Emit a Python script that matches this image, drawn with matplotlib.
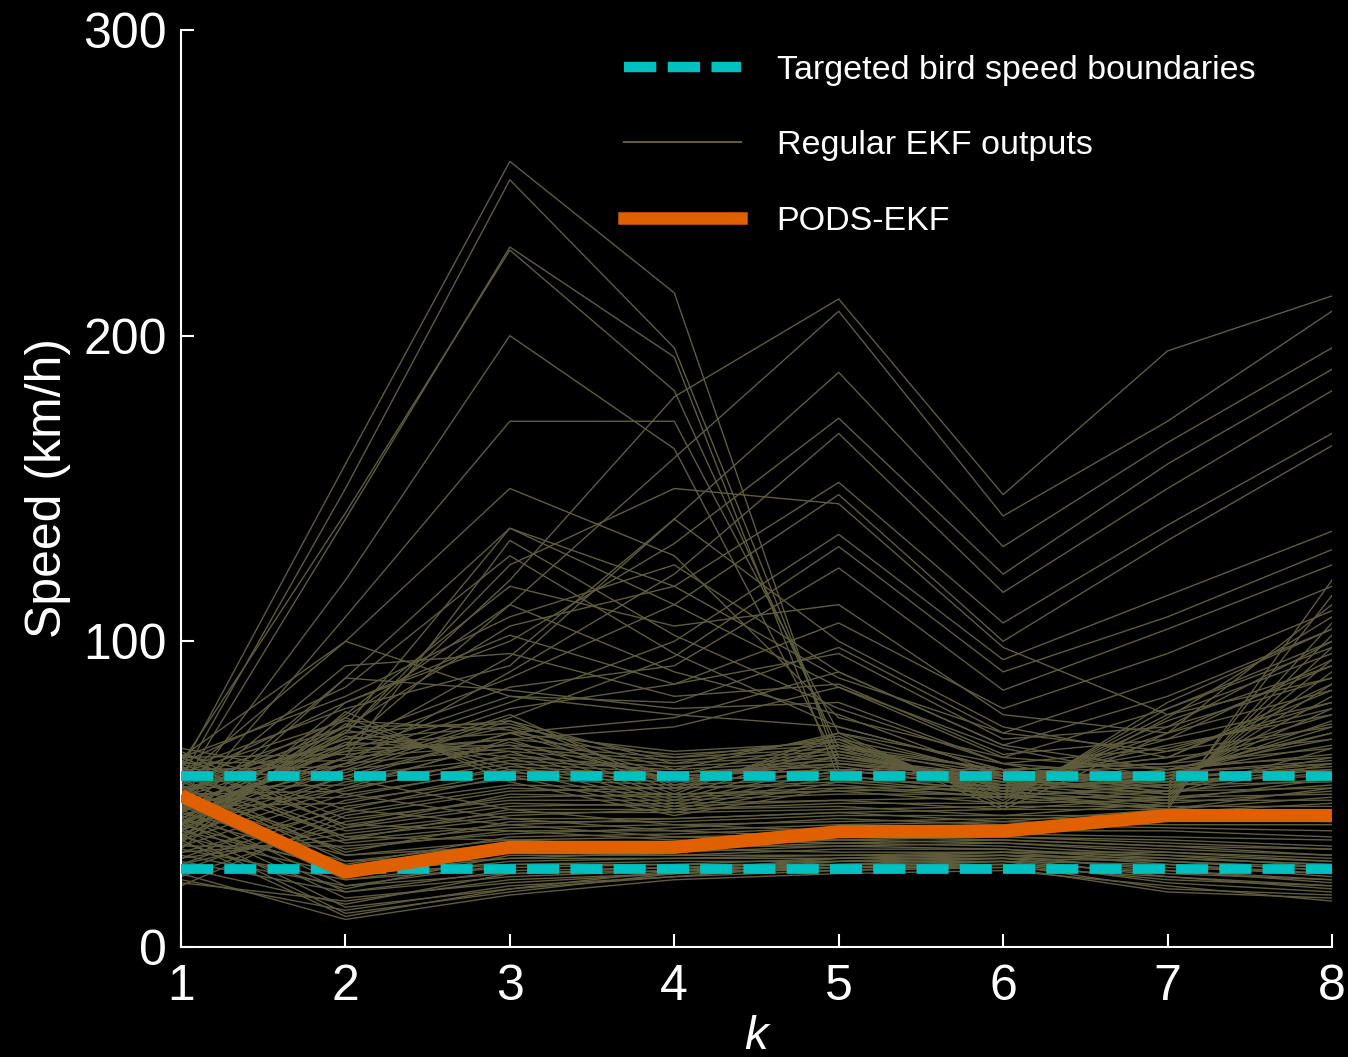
import matplotlib
matplotlib.use('Agg')
import matplotlib.pyplot as plt
from matplotlib.lines import Line2D

k = [1, 2, 3, 4, 5, 6, 7, 8]

# bird speed limits (km/h)
upper_bound = 55.9
lower_bound = 25.4

pods_ekf = [49.5, 24.5, 32.6, 32.6, 37.7, 37.9, 43.0, 43.0]

# regular EKF runs, grouped by shape
spike_k3 = [
    [58, 158, 257, 214, 58, 52, 48, 55],
    [55, 150, 251, 196, 62, 55, 50, 60],
    [52, 140, 229, 193, 55, 50, 45, 52],
    [60, 142, 228, 182, 65, 58, 52, 62],
    [48, 120, 200, 163, 60, 56, 54, 58],
    [45, 108, 172, 172, 70, 60, 50, 65],
    [62, 100, 150, 128, 75, 62, 58, 70],
    [40, 88, 137, 112, 85, 65, 55, 60],
]
peak_k5 = [
    [45, 70, 120, 180, 212, 148, 195, 213],
    [50, 75, 112, 160, 208, 141, 172, 208],
    [42, 65, 95, 140, 188, 131, 165, 196],
    [55, 80, 100, 132, 173, 122, 158, 189],
    [38, 60, 90, 122, 168, 116, 150, 182],
    [44, 72, 105, 118, 152, 106, 138, 168],
    [50, 68, 88, 112, 148, 100, 133, 164],
    [40, 62, 80, 100, 135, 94, 115, 136],
    [46, 58, 75, 95, 131, 90, 108, 130],
    [42, 66, 85, 92, 124, 84, 104, 125],
    [48, 60, 78, 86, 106, 78, 96, 118],
    [52, 64, 82, 80, 98, 70, 88, 110],
    [36, 56, 70, 75, 90, 66, 82, 104],
    [40, 52, 68, 72, 85, 62, 78, 98],
]
mid_bumps = [
    [50, 72, 137, 118, 88, 70, 64, 80],
    [45, 62, 133, 102, 78, 60, 56, 72],
    [60, 85, 128, 96, 72, 58, 60, 76],
    [40, 76, 118, 105, 112, 76, 70, 92],
    [55, 66, 112, 90, 76, 56, 62, 86],
    [35, 80, 102, 86, 96, 68, 72, 100],
    [48, 92, 96, 82, 86, 63, 68, 94],
    [55, 100, 82, 76, 72, 58, 60, 73],
    [44, 88, 84, 78, 80, 60, 65, 78],
    [62, 82, 108, 125, 90, 66, 58, 68],
    [58, 78, 92, 140, 100, 72, 62, 84],
    [38, 70, 125, 150, 145, 98, 76, 88],
]
band_rising = [
    [22, 12, 20, 23, 25, 26, 18, 16],
    [24, 9, 17, 22, 24, 25, 20, 15],
    [21, 15, 22, 24, 26, 27, 22, 20],
    [26, 14, 24, 25, 27, 28, 24, 22],
    [28, 18, 25, 26, 28, 29, 26, 24],
    [30, 20, 27, 27, 29, 30, 28, 26],
    [32, 22, 28, 29, 30, 31, 30, 28],
    [34, 19, 30, 30, 32, 32, 29, 27],
    [36, 24, 29, 31, 33, 34, 32, 30],
    [38, 26, 31, 32, 34, 35, 33, 32],
    [40, 25, 33, 33, 35, 36, 35, 33],
    [42, 28, 34, 34, 36, 37, 36, 35],
    [44, 30, 35, 36, 37, 38, 38, 36],
    [46, 27, 36, 37, 39, 40, 39, 38],
    [48, 32, 38, 38, 40, 41, 40, 40],
    [50, 34, 39, 40, 41, 42, 42, 41],
    [52, 31, 41, 41, 43, 43, 43, 43],
    [54, 36, 42, 42, 44, 45, 45, 44],
    [56, 38, 44, 44, 45, 46, 46, 46],
    [58, 35, 45, 45, 47, 47, 48, 48],
    [60, 40, 47, 46, 48, 49, 49, 50],
    [62, 42, 48, 48, 50, 50, 51, 52],
    [64, 39, 50, 49, 51, 52, 53, 54],
    [25, 44, 52, 50, 52, 53, 54, 56],
    [27, 46, 53, 52, 54, 54, 56, 58],
    [29, 48, 55, 53, 55, 56, 57, 60],
    [31, 45, 56, 54, 57, 57, 59, 62],
    [33, 50, 58, 56, 58, 58, 60, 65],
    [35, 52, 60, 57, 60, 56, 62, 68],
    [37, 54, 61, 58, 61, 55, 64, 72],
    [39, 56, 62, 59, 62, 54, 66, 76],
    [41, 58, 64, 60, 63, 53, 68, 80],
    [43, 60, 65, 61, 64, 52, 70, 84],
    [45, 62, 66, 62, 65, 51, 72, 88],
    [47, 64, 68, 63, 66, 50, 74, 92],
    [49, 66, 70, 64, 67, 49, 76, 96],
    [51, 68, 72, 62, 68, 48, 78, 100],
    [53, 70, 74, 60, 69, 47, 80, 104],
    [55, 72, 73, 58, 70, 46, 75, 108],
    [57, 74, 71, 56, 68, 45, 70, 112],
]
band_falling = [
    [65, 55, 45, 40, 38, 36, 34, 32],
    [63, 50, 42, 38, 36, 35, 33, 30],
    [61, 45, 40, 36, 35, 34, 31, 28],
    [59, 40, 38, 35, 34, 33, 30, 26],
    [57, 36, 35, 33, 33, 32, 28, 25],
    [55, 30, 33, 32, 31, 31, 27, 23],
    [53, 28, 31, 30, 30, 30, 25, 21],
    [51, 26, 29, 29, 29, 29, 23, 19],
    [49, 24, 27, 28, 28, 28, 21, 18],
    [47, 22, 26, 27, 27, 27, 19, 17],
    [45, 20, 24, 26, 26, 26, 23, 20],
    [43, 18, 23, 25, 25, 27, 25, 22],
    [41, 16, 21, 24, 26, 28, 27, 24],
    [39, 13, 19, 23, 27, 29, 28, 25],
    [37, 11, 18, 24, 28, 30, 29, 27],
    [35, 10, 19, 25, 29, 31, 31, 29],
    [33, 33, 37, 39, 42, 40, 44, 47],
    [31, 35, 40, 42, 44, 41, 45, 49],
    [29, 37, 43, 45, 46, 43, 47, 51],
    [27, 39, 46, 47, 48, 45, 49, 53],
    [23, 41, 49, 50, 51, 47, 51, 55],
    [20, 43, 51, 52, 53, 49, 53, 57],
    [46, 47, 57, 55, 56, 51, 55, 59],
    [48, 49, 59, 56, 58, 52, 57, 61],
    [50, 51, 63, 57, 59, 53, 58, 63],
    [52, 53, 67, 55, 60, 55, 57, 66],
    [54, 55, 70, 54, 62, 56, 56, 70],
    [56, 57, 74, 53, 64, 57, 55, 74],
    [58, 59, 76, 52, 66, 58, 54, 78],
    [60, 61, 72, 51, 68, 57, 53, 82],
    [62, 63, 68, 50, 70, 56, 52, 86],
    [44, 65, 66, 49, 66, 55, 51, 90],
    [42, 67, 64, 48, 63, 54, 50, 94],
    [40, 69, 62, 47, 60, 53, 49, 98],
    [38, 71, 60, 46, 58, 52, 48, 102],
    [36, 73, 58, 45, 56, 51, 47, 106],
    [34, 75, 56, 44, 54, 50, 46, 115],
    [32, 77, 54, 43, 52, 49, 45, 120],
]

olive = '#5f5c3e'
cyan = '#00c0c0'
orange = '#e06000'

plt.rcParams['font.family'] = ['Liberation Sans', 'DejaVu Sans']

fig = plt.figure(figsize=(13.48, 10.57), dpi=100, facecolor='black')
ax = fig.add_axes([0.1343, 0.1041, 0.8538, 0.8675])
ax.set_facecolor('black')

for group in [band_rising, band_falling, mid_bumps, peak_k5, spike_k3]:
    for run in group:
        ax.plot(k, run, color=olive, lw=1.0, zorder=2)

ax.axhline(upper_bound, color=cyan, lw=7, dashes=(3.3, 1.15), zorder=3)
ax.axhline(lower_bound, color=cyan, lw=7, dashes=(3.3, 1.15), zorder=3)
ax.plot(k, pods_ekf, color=orange, lw=9.5, zorder=4, solid_capstyle='butt')

ax.set_xlim(1, 8)
ax.set_ylim(0, 300)
ax.set_xticks(k)
ax.set_yticks([0, 100, 200, 300])
for s in ['top', 'right']:
    ax.spines[s].set_visible(False)
for s in ['left', 'bottom']:
    ax.spines[s].set_color('white')
    ax.spines[s].set_linewidth(1.5)
ax.tick_params(direction='in', length=9.5, width=1.5, colors='white', labelsize=36)
ax.tick_params(axis='y', pad=10)
ax.tick_params(axis='x', pad=12)

ax.set_ylabel('Speed (km/h)', color='white', fontsize=36, labelpad=9)
ax.set_xlabel('k', color='white', fontsize=34, style='italic', labelpad=4)

handles = [
    Line2D([], [], color=cyan, lw=7.5, dashes=(3.1, 1.1)),
    Line2D([], [], color=olive, lw=1.5),
    Line2D([], [], color=orange, lw=9),
]
labels = ['Targeted bird speed boundaries', 'Regular EKF outputs', 'PODS-EKF']
leg = ax.legend(handles, labels, loc='upper right', frameon=False,
                prop={'family': 'Liberation Sans', 'size': 24.5},
                handlelength=3.45, handletextpad=1.05, labelspacing=1.3,
                bbox_to_anchor=(0.96, 1.006))
for t in leg.get_texts():
    t.set_color('white')

fig.savefig('out.png', dpi=100, facecolor='black')
